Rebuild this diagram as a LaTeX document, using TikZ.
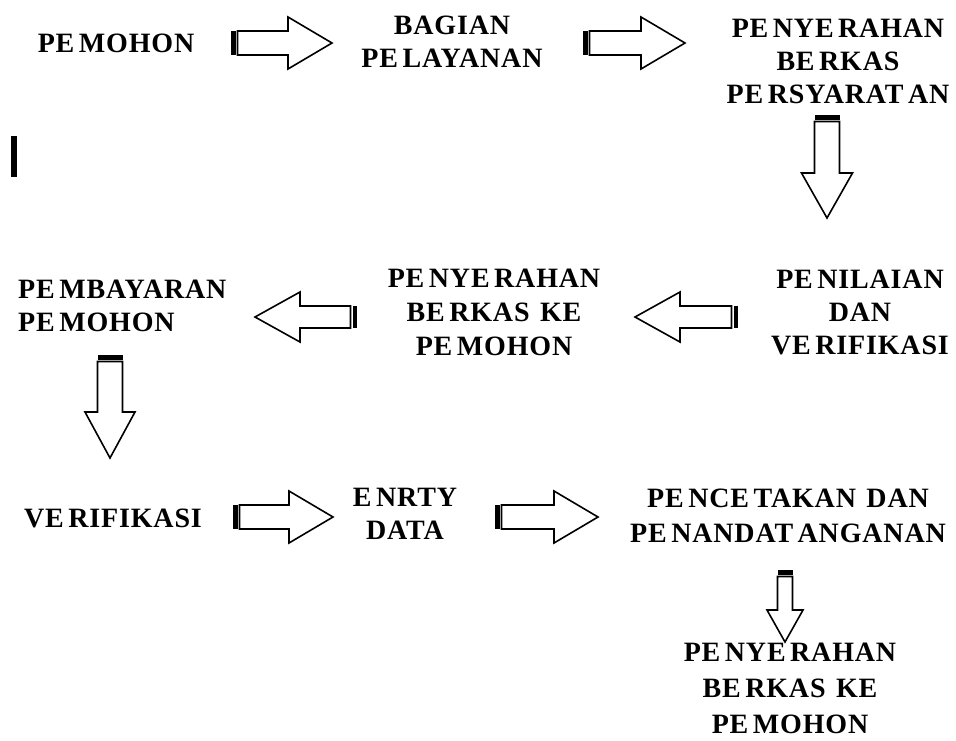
\documentclass[tikz,border=0pt]{standalone}
\usepackage{fontspec}
\newfontfamily\lblfont{Liberation Serif}[LetterSpace=3]
\newcommand\W{\kern6pt}
\newcommand\sarrow[7]{%
  \begin{scope}[shift={(#1,#2)}, rotate=#3]
    \fill[black] (0,-#5) rectangle (4.5,#5);
    \draw[arrowline] (6.5,-#5) -- ({#4-#7},-#5) -- ({#4-#7},-#6) -- (#4,0) -- ({#4-#7},#6) -- ({#4-#7},#5) -- (6.5,#5) -- cycle;
  \end{scope}}
\tikzset{
  lbl/.style={font=\lblfont\bfseries\fontsize{28}{33}\selectfont, execute at begin node={\spaceskip=4.5pt\relax}, align=center, inner sep=0pt, text=black},
  arrowline/.style={draw=black, line width=1.6pt, fill=white, line join=miter}
}
\begin{document}
\begin{tikzpicture}[x=1pt,y=-1pt]
\useasboundingbox (0,0) rectangle (956,740);
% row 1
\node[lbl] (pemohon) at (116,43) {PE MOHON};
\node[lbl] (bagian) at (452,42) {BAGIAN\\PE LAYANAN};
\node[lbl] (berkas) at (838,61) {PE NYE RAHAN\\BE RKAS\\PE RSYARAT AN};
% row 2
\node[lbl, align=left, anchor=west] (bayar) at (18,306) {PE MBAYARAN\\PE MOHON};
\node[lbl, font=\lblfont\bfseries\fontsize{28}{34}\selectfont] (serah) at (494,312) {PE NYE RAHAN\\BE RKAS\W{} KE\\PE MOHON};
\node[lbl] (nilai) at (860,312) {PE NILAIAN\\DAN\\VE RIFIKASI};
% row 3
\node[lbl] (verif) at (113,518) {VE RIFIKASI};
\node[lbl] (entry) at (405,514) {E NRTY\\DATA};
\node[lbl, font=\lblfont\bfseries\fontsize{28}{35}\selectfont] (cetak) at (788,516) {PE NCE TAKAN\W{} DAN\\PE NANDAT ANGANAN};
\node[lbl, font=\lblfont\bfseries\fontsize{28}{36}\selectfont] (serah2) at (790,688) {PE NYE RAHAN\\BE RKAS\W{} KE\\PE MOHON};
% stray bar
\fill[black] (11,136) rectangle (17,177);
% arrows
\sarrow{231}{43}{0}{101}{12}{26}{44}
\sarrow{583}{43}{0}{102}{12}{26}{44}
\sarrow{827}{115}{-90}{103}{12.5}{25.5}{45}
\sarrow{357}{317}{180}{102}{11}{25}{45}
\sarrow{738}{317}{180}{103}{11}{25}{45}
\sarrow{110}{355}{-90}{103}{12.5}{25}{46}
\sarrow{233}{517}{0}{100}{12}{26}{44}
\sarrow{495}{517}{0}{103}{12}{26}{44}
\sarrow{785}{570}{-90}{72}{7.5}{18}{32}
\end{tikzpicture}
\end{document}
